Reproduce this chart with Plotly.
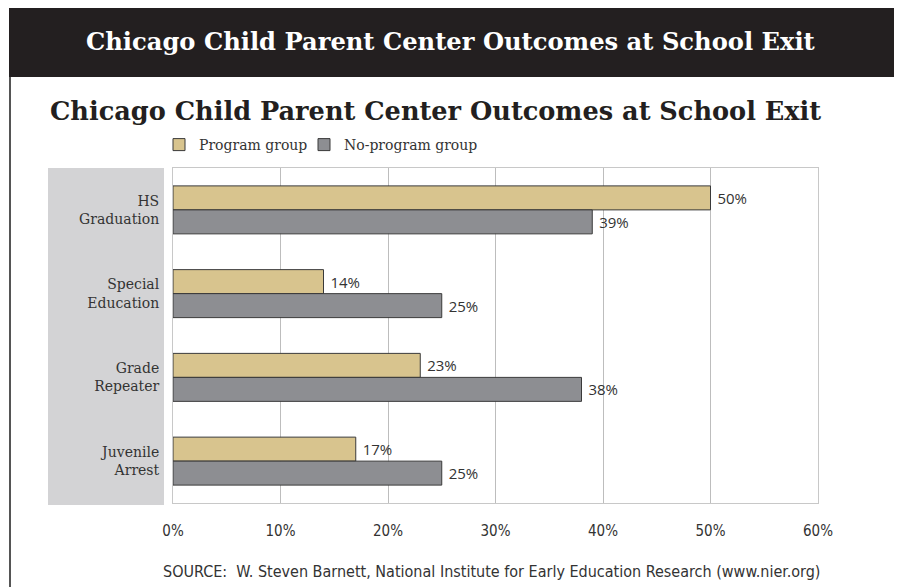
import plotly.graph_objects as go

categories = ["HS<br>Graduation", "Special<br>Education", "Grade<br>Repeater", "Juvenile<br>Arrest"]
program = [50, 14, 23, 17]
no_program = [39, 25, 38, 25]
series_names = ["Program group", "No-program group"]
tick_vals = [0, 10, 20, 30, 40, 50, 60]
tick_text = ["0%", "10%", "20%", "30%", "40%", "50%", "60%"]

W, H = 902, 587
OFF = 8  # page body margin offset in the rendered page

def px(x):
    return (x - OFF) / W
def py(y):
    return 1 - (y - OFF) / H

label_font = dict(family="Open Sans, DejaVu Sans, sans-serif", size=15, color="#333333")
serif = "DejaVu Serif, serif"
narrow = "Liberation Sans Narrow, DejaVu Sans Condensed, sans-serif"

fig = go.Figure()
fig.add_trace(go.Bar(
    y=categories, x=program, orientation="h", name=series_names[0],
    marker=dict(color="#d8c48e", line=dict(color="#3a3a3a", width=1)),
    text=[f"\u00a0{v}%" for v in program], textposition="outside",
    textfont=label_font, cliponaxis=False, constraintext="none",
    hoverinfo="skip", legend="legend",
))
fig.add_trace(go.Bar(
    y=categories, x=no_program, orientation="h", name=series_names[1],
    marker=dict(color="#8d8e92", line=dict(color="#3a3a3a", width=1)),
    text=[f"\u00a0{v}%" for v in no_program], textposition="outside",
    textfont=label_font, cliponaxis=False, constraintext="none",
    hoverinfo="skip", legend="legend2",
))

shapes = [
    dict(type="rect", xref="paper", yref="paper", x0=px(9), x1=1.0, y0=py(77), y1=1.0,
         fillcolor="#231f20", line=dict(width=0), layer="below"),
    dict(type="line", xref="paper", yref="paper", x0=px(10), x1=px(10), y0=py(77), y1=0,
         line=dict(color="#555555", width=2)),
    dict(type="rect", xref="paper", yref="paper", x0=px(48), x1=px(164), y0=py(505), y1=py(168),
         fillcolor="#d3d3d5", line=dict(width=0), layer="below"),
]

annotations = [
    dict(text="<b>Chicago Child Parent Center Outcomes at School Exit</b>", xref="paper", yref="paper",
         x=px(451), y=py(41), xanchor="center", yanchor="middle", showarrow=False,
         font=dict(family=serif, size=24.2, color="white")),
    dict(text="<b>Chicago Child Parent Center Outcomes at School Exit</b>", xref="paper", yref="paper",
         x=px(435), y=py(111), xanchor="center", yanchor="middle", showarrow=False,
         font=dict(family=serif, size=25.6, color="#231f20")),
    dict(text="SOURCE:  W. Steven Barnett, National Institute for Early Education Research (www.nier.org)",
         xref="paper", yref="paper", x=px(491), y=py(571), xanchor="center", yanchor="middle",
         showarrow=False, font=dict(family=narrow, size=16, color="#333333")),
]

legend_common = dict(orientation="h", xanchor="left", yanchor="middle",
                     font=dict(family=serif, size=14, color="#333333"),
                     itemwidth=30, bgcolor="rgba(0,0,0,0)")

fig.update_layout(
    width=W, height=H, autosize=False,
    margin=dict(l=0, r=0, t=0, b=0, pad=0, autoexpand=False),
    paper_bgcolor="white", plot_bgcolor="white",
    barmode="group", bargap=0.427, bargroupgap=0,
    showlegend=True,
    legend=dict(x=px(159), y=py(145), **legend_common),
    legend2=dict(x=px(304), y=py(145), **legend_common),
    shapes=shapes, annotations=annotations,
    xaxis=dict(domain=[px(173), px(818)], range=[0, 60], tickvals=tick_vals, ticktext=tick_text,
               showgrid=True, gridcolor="#bdbdbd", gridwidth=1, zeroline=False, automargin=False,
               showline=True, linecolor="#c8c8c8", mirror=True, ticks="", ticklabelstandoff=14,
               tickfont=dict(family=narrow, size=15, color="#333333"),
               fixedrange=True),
    yaxis=dict(domain=[py(503), py(168)], autorange="reversed", showgrid=False, zeroline=False,
               automargin=False,
               showline=True, linecolor="#c8c8c8", mirror=True, ticks="", ticklabelstandoff=10,
               tickfont=dict(family=serif, size=14, color="#333333"),
               fixedrange=True),
)

fig.write_html("out.html")
